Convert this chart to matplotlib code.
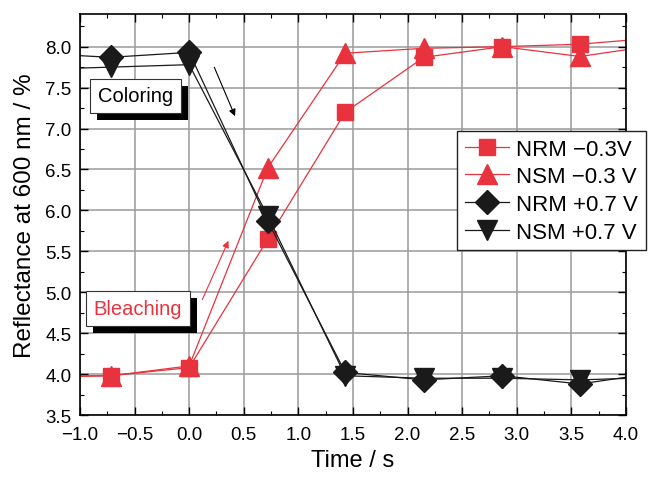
import numpy as np
import matplotlib
matplotlib.use("Agg")
import matplotlib.pyplot as plt
import matplotlib.patheffects as pe

plt.rcParams['font.family'] = ['Liberation Sans', 'DejaVu Sans']

# time in s, reflectance in %  (end points lie outside the axes and are clipped)
time = [-1.43, -0.72, 0.0, 0.72, 1.43, 2.15, 2.87, 3.58, 4.3]
nrm_neg = [3.96, 3.98, 4.08, 5.65, 7.20, 7.87, 8.00, 8.03, 8.11]
nsm_neg = [3.98, 3.98, 4.10, 6.52, 7.92, 7.98, 8.00, 7.88, 8.02]
nrm_pos = [7.92, 7.87, 7.93, 5.87, 4.02, 3.93, 3.98, 3.88, 4.02]
nsm_pos = [7.72, 7.75, 7.78, 5.93, 3.98, 3.95, 3.95, 3.93, 3.96]
labels = ["NRM \u22120.3V", "NSM \u22120.3 V", "NRM +0.7 V", "NSM +0.7 V"]

red = '#e8323e'
black = '#1a1a1a'

fig = plt.figure(figsize=(6.56, 4.81), dpi=100)
ax = fig.add_axes([0.122, 0.135, 0.832, 0.834])

ax.plot(time, nrm_neg, color=red, lw=0.9, marker='s', ms=11, label=labels[0])
ax.plot(time, nsm_neg, color=red, lw=0.9, marker='^', ms=14, label=labels[1])
ax.plot(time, nrm_pos, color=black, lw=0.9, marker='D', ms=12, label=labels[2])
ax.plot(time, nsm_pos, color=black, lw=0.9, marker='v', ms=14, label=labels[3])

ax.set_xlim(-1.0, 4.0)
ax.set_ylim(3.5, 8.4)
ax.set_xticks(np.arange(-1.0, 4.01, 0.5))
ax.set_yticks(np.arange(3.5, 8.01, 0.5))
ax.set_xticks(np.arange(-1.0, 4.01, 0.25), minor=True)
ax.set_yticks(np.arange(3.5, 8.4, 0.25), minor=True)
fmt = plt.FuncFormatter(lambda v, p: f"{v:.1f}".replace('-', '\u2212'))
ax.xaxis.set_major_formatter(fmt)
ax.yaxis.set_major_formatter(fmt)
ax.tick_params(which='both', direction='in', top=True, right=True, labelsize=13.5)
ax.tick_params(which='major', length=6, width=1)
ax.tick_params(which='minor', length=3, width=0.8)
ax.tick_params(axis='x', pad=8)
ax.tick_params(axis='y', pad=6)
ax.grid(True, which='major', color='#9a9a9a', lw=1.1)
ax.set_axisbelow(True)
for s in ax.spines.values():
    s.set_linewidth(1.2)

ax.set_xlabel("Time / s", fontsize=17, labelpad=4)
ax.set_ylabel("Reflectance at 600 nm / %", fontsize=17.5, labelpad=7)

# annotation boxes with solid shadow
for txt, x, y, c in [("Coloring", -0.49, 7.40, 'black'), ("Bleaching", -0.47, 4.80, red)]:
    t = ax.text(x, y, txt, color=c, fontsize=14.5, ha='center', va='center', zorder=5,
                bbox=dict(boxstyle='square,pad=0.38', fc='white', ec='#333333', lw=0.8))
    t.get_bbox_patch().set_path_effects(
        [pe.SimplePatchShadow(offset=(5, -5), shadow_rgbFace='black', alpha=1), pe.Normal()])

ax.annotate("", xy=(0.43, 7.12), xytext=(0.22, 7.78),
            arrowprops=dict(arrowstyle='-|>', color='black', lw=0.8, mutation_scale=10))
ax.annotate("", xy=(0.37, 5.66), xytext=(0.11, 4.88),
            arrowprops=dict(arrowstyle='-|>', color=red, lw=0.8, mutation_scale=10))

leg = fig.legend(loc='upper left', bbox_to_anchor=(0.697, 0.726), borderaxespad=0,
                 fontsize=16, handlelength=2.0, borderpad=0.35, labelspacing=0.3,
                 handletextpad=0.3, fancybox=False, framealpha=1, edgecolor='#222222')
leg.get_frame().set_linewidth(1.0)

fig.savefig("out.png", dpi=100)
